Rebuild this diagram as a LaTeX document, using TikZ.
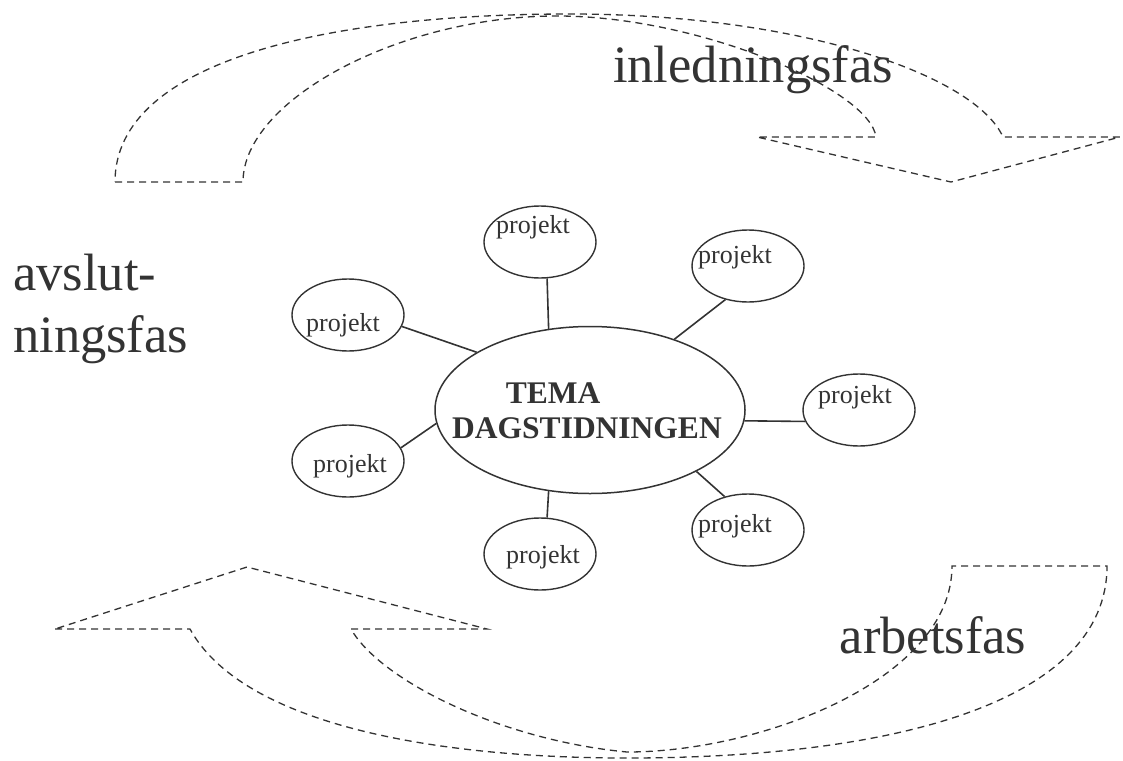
\documentclass[tikz,border=0pt]{standalone}
\usepackage{fontspec}
\setmainfont{Liberation Serif}
\usetikzlibrary{shapes.geometric}
\definecolor{ink}{HTML}{333333}
\begin{document}
\begin{tikzpicture}[x=1pt,y=-1pt,
  proj/.style={ellipse, draw=ink, line width=1.4pt, minimum width=112pt, minimum height=72pt, inner sep=0pt},
  center/.style={ellipse, draw=ink, line width=1.5pt, minimum width=310pt, minimum height=167pt, inner sep=0pt},
  ptext/.style={anchor=base, inner sep=0pt, text=ink, font=\fontsize{26}{30}\selectfont},
  btext/.style={anchor=base, inner sep=0pt, text=ink, font=\bfseries\fontsize{31.5}{36}\selectfont},
  big/.style={inner sep=0pt, text=ink, font=\fontsize{52.5}{60}\selectfont},
  link/.style={draw=ink, line width=1.6pt},
  arrowline/.style={draw=ink, line width=1.3pt, dash pattern=on 7pt off 5pt}]
\useasboundingbox (0,0) rectangle (1123,760);

% dashed curved arrows
\draw[arrowline] (115,182) -- (243,182)
  .. controls (243,100) and (400,16) .. (557,16)
  .. controls (700,16) and (870,90) .. (876,137)
  -- (757,137) -- (951,182) -- (1120,137) -- (1003,137)
  .. controls (975,75) and (800,14) .. (570,14)
  .. controls (330,14) and (115,60) .. (115,182) -- cycle;

\draw[arrowline] (55,629) -- (190,629)
  .. controls (240,720) and (420,758) .. (627,758)
  .. controls (900,758) and (1107,700) .. (1107,566)
  -- (952,566)
  .. controls (952,680) and (760,752) .. (627,752)
  .. controls (500,740) and (380,680) .. (351,629)
  -- (487,629) -- (247,567) -- cycle;

% centre
\node[center] (c) at (590,410) {};
\node[btext] (tema) at (553,403) {TEMA};
\node[btext] (dag) at (587,438) {DAGSTIDNINGEN};

% project ellipses
\node[proj] (p1) at (540,242) {};
\node[proj] (p2) at (748,266) {};
\node[proj] (p3) at (348,315) {};
\node[proj] (p4) at (859,410) {};
\node[proj] (p5) at (748,530) {};
\node[proj] (p6) at (540,554) {};
\node[proj] (p7) at (348,461) {};

\node[ptext] (l1) at (533,233) {projekt};
\node[ptext] (l2) at (735,263) {projekt};
\node[ptext] (l3) at (343,331) {projekt};
\node[ptext] (l4) at (855,403) {projekt};
\node[ptext] (l5) at (735,532) {projekt};
\node[ptext] (l6) at (543,563) {projekt};
\node[ptext] (l7) at (350,472) {projekt};

% links
\draw[link] (p1.-79) -- (c.117.4);
\draw[link] (p2.-124) -- (c.40.6);
\draw[link] (p4.-168) -- (c.-4.4);
\draw[link] (p5.125.5) -- (c.-30.5);
\draw[link] (p6.79) -- (c.-117.4);
\draw[link] (p7.14.3) -- (c.-175.2);
\draw[link] (p3.-12) -- (c.153.8);

% phase labels
\node[big, anchor=base] (inl) at (753,82) {inledningsfas};
\node[big, anchor=base west] (avs1) at (13,290) {avslut-};
\node[big, anchor=base west] (avs2) at (13,352) {ningsfas};
\node[big, anchor=base] (arb) at (933,653) {arbetsfas};
\end{tikzpicture}
\end{document}
